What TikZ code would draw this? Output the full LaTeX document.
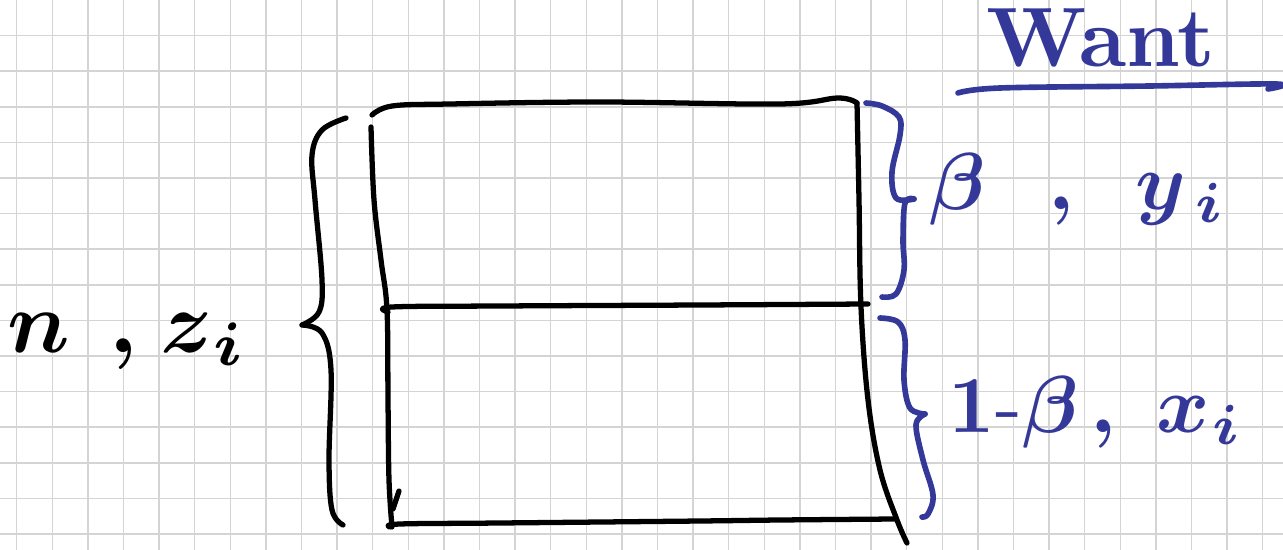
\documentclass[tikz,border=0pt]{standalone}
\definecolor{handblue}{RGB}{52,56,152}
\definecolor{gridc}{RGB}{212,212,212}
\begin{document}
\begin{tikzpicture}[x=0.02cm,y=-0.02cm,
  ink/.style={line width=3.0pt,line cap=round,line join=round,black},
  blueink/.style={line width=3.2pt,line cap=round,line join=round,handblue},
  gridline/.style={line width=0.85pt,gridc},
  lab/.style={inner sep=0pt,anchor=base west,font=\boldmath},
  bluelab/.style={lab,text=handblue}]
\useasboundingbox (0,0) rectangle (1283,550);
% grid paper
\foreach \i in {0,...,35} \draw[gridline] ({16.7+35.6*\i},0) -- ({16.7+35.6*\i},550);
\foreach \j in {1,...,15} \draw[gridline] (0,{35.6*\j}) -- (1283,{35.6*\j});
% corners
\coordinate (tl) at (372,115);
\coordinate (tr) at (857,103);
\coordinate (ml) at (388,312);
\coordinate (mr) at (868,304);
\coordinate (bl) at (390,527);
\coordinate (br) at (907,543);
% rectangle
\draw[ink] plot[smooth,tension=0.6] coordinates {(tl) (392,106) (450,104) (600,102) (780,104) (838,98) (tr)};
\draw[ink] plot[smooth,tension=0.6] coordinates {(tr) (859,200) (861,307) (868,400) (880,470) (897,520) (br)};
\draw[ink] plot[smooth,tension=0.6] coordinates {(371,127) (374,200) (381,260) (387,310) (388,400) (389,480) (392,527)};
\draw[ink] (399,491) -- (393,509);
\draw[ink] plot[smooth,tension=0.6] coordinates {(ml) (392,307) (500,306) (700,305) (mr)};
\draw[ink] plot[smooth,tension=0.6] coordinates {(bl) (400,524) (500,523) (700,521) (780,520) (895,519)};
% left brace
\coordinate (lbt) at (346,118);
\coordinate (lbc) at (302,325);
\coordinate (lbb) at (343,525);
\draw[ink] plot[smooth,tension=0.6] coordinates {(lbt) (322,130) (312,155) (315,200) (322,280) (319,312) (lbc)};
\draw[ink] plot[smooth,tension=0.6] coordinates {(lbc) (322,333) (331,370) (329,460) (332,510) (lbb)};
% upper right brace
\coordinate (ubt) at (866,103);
\coordinate (ubc) at (914,199);
\coordinate (ubb) at (882,297);
\draw[blueink] plot[smooth,tension=0.6] coordinates {(ubt) (882,106) (899,117) (900,135) (892,172) (896,198) (ubc)};
\draw[blueink] plot[smooth,tension=0.6] coordinates {(ubc) (905,203) (903,240) (904,270) (896,294) (ubb)};
% lower right brace
\coordinate (dbt) at (880,318);
\coordinate (dbc) at (925,414);
\coordinate (dbb) at (922,517);
\draw[blueink] plot[smooth,tension=0.6] coordinates {(dbt) (898,322) (905,340) (904,380) (910,408) (dbc)};
\draw[blueink] plot[smooth,tension=0.6] coordinates {(dbc) (916,425) (923,460) (933,495) (928,514) (dbb)};
% labels
\node[lab,scale=5.0] (nz) at (6,352) {$n\hspace{0.45em}{,}\hspace{0.26em}z_{\hspace{0.05em}i}$};
\node[bluelab,scale=4.6] (by) at (928,210) {$\beta\hspace{0.78em}{,}\hspace{0.75em}y_{\hspace{0.15em}i}$};
\node[bluelab,scale=4.6] (bx) at (947,432) {$1\mbox{-}\beta\hspace{0.15em}{,}\hspace{0.5em}x_{\hspace{0.03em}i}$};
\node[bluelab,scale=4.8,anchor=base,font=\bfseries] (want) at (1101,67) {Want};
\coordinate (ul) at (958,93);
\coordinate (ur) at (1276,84);
\draw[blueink] plot[smooth,tension=0.6] coordinates {(ul) (1000,88) (1150,86) (ur) (1268,89)};
\end{tikzpicture}
\end{document}
